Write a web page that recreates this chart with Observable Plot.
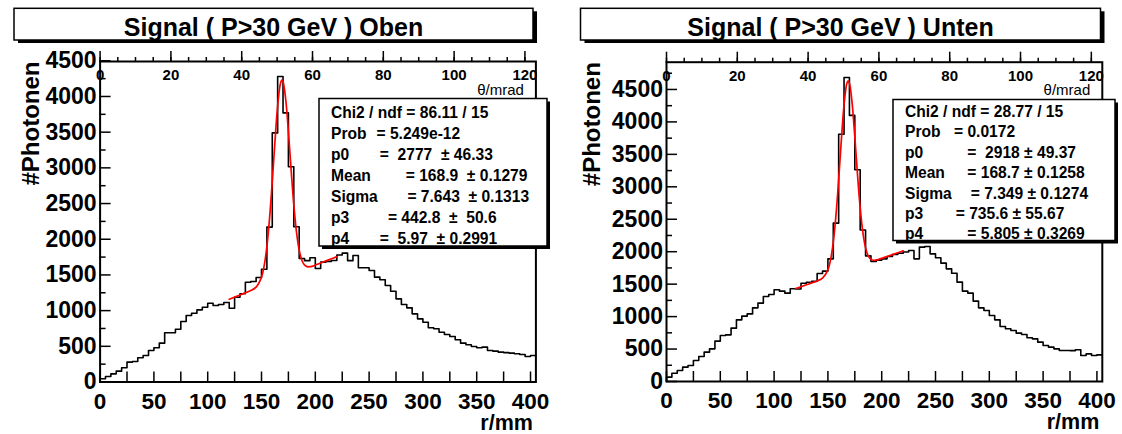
<!DOCTYPE html>
<html><head><meta charset="utf-8">
<script src="https://cdn.jsdelivr.net/npm/d3@7"></script>
<script src="https://cdn.jsdelivr.net/npm/@observablehq/plot@0.6"></script>
<style>
body{margin:0;background:#fff;}
#wrap{display:flex;width:1122px;height:434px;overflow:hidden;}
svg text{white-space:pre;}
</style></head><body><div id="wrap"></div>
<script>
// ---------- data ----------
const BIN_WIDTH = 5;          // mm
const R_MAX = 405;            // mm
const MM_PER_MRAD = 3.29;     // r = f * theta

const titleOben = "Signal ( P>30 GeV ) Oben";
const titleUnten = "Signal ( P>30 GeV ) Unten";

const countsOben = [45,77,114,152,199,278,287,339,371,441,
  479,544,689,689,740,848,932,964,1011,1048,
  1104,1072,1086,1114,1034,1188,1236,1398,1408,1465,
  1580,2170,3490,4280,3770,3015,2175,1730,1700,1740,
  1590,1680,1690,1702,1780,1805,1700,1772,1600,1600,
  1562,1469,1432,1352,1272,1165,1086,1039,955,885,
  838,759,745,698,665,637,591,544,521,497,
  479,488,441,432,418,412,405,395,385,357,371];

const countsUnten = [67,128,170,221,247,324,385,452,503,622,
  709,719,822,950,1007,1042,1135,1207,1310,1341,
  1413,1392,1361,1430,1425,1515,1530,1545,1665,1700,
  1890,2440,3810,4685,4100,3262,2335,1935,1849,1870,
  1890,1926,1957,1977,1995,2019,1890,2070,2080,1967,
  1906,1824,1736,1669,1531,1392,1361,1238,1135,1094,
  1017,950,848,812,786,745,724,673,657,606,
  555,529,503,478,478,475,490,401,426,401,411];

// fit curves (gaus + pol1) as drawn
const fitROben = [120,125,130,135,140,145,150,152.5,155,157.5,160,162.5,165,167.5,168.9,170,172.5,175,177.5,180,182.5,185,187.5,190,192.5,195,197.5,200,205,210,215,220];
const fitFOben = [1159,1189,1219,1249,1281,1329,1469,1631,1899,2296,2808,3369,3866,4174,4228,4206,3958,3507,2977,2485,2102,1849,1706,1639,1616,1615,1624,1638,1667,1697,1726,1756];
const fitRUnten = [120,125,130,135,140,145,150,152.5,155,157.5,160,162.5,165,167.5,168.7,170,172.5,175,177.5,180,182.5,185,187.5,190,192.5,195,197.5,200,205,210,215,220];
const fitFUnten = [1432,1461,1490,1519,1550,1593,1721,1878,2149,2564,3113,3723,4264,4587,4633,4595,4290,3772,3191,2675,2296,2059,1935,1882,1868,1872,1883,1897,1926,1955,1984,2013];

// stats boxes (label, rest of line)
const statLabelsOben = ["Chi2 / ndf = 86.11 / 15","Prob","p0","Mean","Sigma","p3","p4"];
const statRestOben = ["","= 5.249e-12","=\u00A0 2777 \u00A0± 46.33","= 168.9 \u00A0± 0.1279","= 7.643 \u00A0± 0.1313","= 442.8 \u00A0± \u00A050.6","=\u00A0 5.97 \u00A0± 0.2991"];
const statLabelsUnten = ["Chi2 / ndf = 28.77 / 15","Prob","p0","Mean","Sigma","p3","p4"];
const statRestUnten = ["","= 0.0172","=\u00A0 2918 ± 49.37","= 168.7 ± 0.1258","= 7.349 ± 0.1274","= 735.6 ± 55.67","= 5.805 ± 0.3269"];

// axis ticks / labels
const rTicks = [0,25,50,75,100,125,150,175,200,225,250,275,300,325,350,375,400];
const rLabels = [0,50,100,150,200,250,300,350,400];
const thetaMajor = [0,20,40,60,80,100,120];
const thetaMinor = [0,5,10,15,20,25,30,35,40,45,50,55,60,65,70,75,80,85,90,95,100,105,110,115,120];
const yMajor = [0,500,1000,1500,2000,2500,3000,3500,4000,4500];
const yMinorOben = [250,750,1250,1750,2250,2750,3250,3750,4250];
const yMinorUnten = [250,750,1250,1750,2250,2750,3250,3750,4250,4750];
const xTitle = "r/mm", yTitle = "#Photonen", topTitle = "θ/mrad";

// ---------- layout ----------
const FONT = "'Liberation Sans', Arial, Helvetica, sans-serif";
const layoutOben = {ml: 99.6, mr: 25.6, mt: 61, mb: 52.5, ymax: 4490,
  title: [14, 533, 8.3, 40], titleBase: 36,
  stats: [319, 547, 98.5, 246], statsX: 331, statsY0: 112, statsDy: 21.1,
  eq: [0, 45.5, 48.8, 74.7, 76.4, 56.9, 48.8]};
const layoutUnten = {ml: 105, mr: 20.2, mt: 61.7, mb: 53, ymax: 4920,
  title: [19.5, 539.5, 8.3, 40], titleBase: 36,
  stats: [332, 554, 99.5, 240.5], statsX: 344, statsY0: 111.5, statsDy: 20.4,
  eq: [0, 49, 62.3, 62.3, 65.7, 50.7, 62.3]};

function boxes(title, L, labels, rest) {
  return () => {
    const g = d3.create("svg:g").attr("font-family", FONT).attr("font-weight", "bold").attr("fill", "black");
    const [tx0, tx1, ty0, ty1] = L.title;
    g.append("rect").attr("x", tx0 + 4).attr("y", ty0 + 3).attr("width", tx1 - tx0).attr("height", ty1 - ty0).attr("fill", "black");
    g.append("rect").attr("x", tx0).attr("y", ty0).attr("width", tx1 - tx0).attr("height", ty1 - ty0).attr("fill", "white").attr("stroke", "black").attr("stroke-width", 1.5);
    g.append("text").attr("x", (tx0 + tx1) / 2).attr("y", L.titleBase).attr("text-anchor", "middle").attr("font-size", 25).text(title);
    const [sx0, sx1, sy0, sy1] = L.stats;
    g.append("rect").attr("x", sx0 + 3).attr("y", sy0 + 3).attr("width", sx1 - sx0).attr("height", sy1 - sy0).attr("fill", "black");
    g.append("rect").attr("x", sx0).attr("y", sy0).attr("width", sx1 - sx0).attr("height", sy1 - sy0).attr("fill", "white").attr("stroke", "black").attr("stroke-width", 1.5);
    labels.forEach((lab, i) => {
      const y = L.statsY0 + i * L.statsDy + 5.5;
      g.append("text").attr("x", L.statsX).attr("y", y).attr("text-anchor", "start").attr("font-size", 15.6).text(lab);
      if (rest[i]) g.append("text").attr("x", L.statsX + L.eq[i]).attr("y", y).attr("text-anchor", "start").attr("font-size", 15.6).text(rest[i]);
    });
    return g.node();
  };
}

function makePanel(counts, fitR, fitF, yMinor, title, L, labels, rest) {
  const hist = [{r: 0, c: 0}, ...counts.map((c, i) => ({r: i * BIN_WIDTH, c})), {r: counts.length * BIN_WIDTH, c: counts[counts.length - 1]}];
  const fit = fitR.map((r, i) => ({r, f: fitF[i]}));
  return Plot.plot({
    width: 561, height: 434,
    marginLeft: L.ml, marginRight: L.mr, marginTop: L.mt, marginBottom: L.mb,
    x: {domain: [0, R_MAX], axis: null},
    y: {domain: [0, L.ymax], axis: null},
    style: {fontFamily: FONT, background: "white", color: "black", overflow: "visible"},
    marks: [
      Plot.line(hist, {x: "r", y: "c", curve: "step-after", stroke: "black", strokeWidth: 1.6}),
      Plot.line(fit, {x: "r", y: "f", curve: "catmull-rom", stroke: "#ff0000", strokeWidth: 1.7}),
      Plot.frame({stroke: "black", strokeWidth: 2}),
      Plot.axisX(rTicks, {anchor: "bottom", tickSize: -10, tickFormat: () => "", label: null, strokeWidth: 1.5}),
      Plot.axisX(rLabels, {anchor: "bottom", tickSize: 0, tickPadding: 10.8, label: null, fontSize: 22.5, fontWeight: "bold", tickFormat: d => String(d)}),
      Plot.axisY(yMinor, {anchor: "left", tickSize: -6, tickFormat: () => "", label: null, strokeWidth: 1.5}),
      Plot.axisY(yMajor, {anchor: "left", tickSize: -11, tickFormat: () => "", label: null, strokeWidth: 1.5}),
      Plot.axisY(yMajor, {anchor: "left", tickSize: 0, tickPadding: 3.5, label: null, fontSize: 23, fontWeight: "bold", tickFormat: d => String(d)}),
      Plot.axisX(thetaMinor.map(t => t * MM_PER_MRAD), {anchor: "top", tickSize: 5, tickFormat: () => "", label: null, strokeWidth: 1.5}),
      Plot.axisX(thetaMajor.map(t => t * MM_PER_MRAD), {anchor: "top", tickSize: 11, tickFormat: () => "", label: null, strokeWidth: 1.5}),
      Plot.text(thetaMajor, {x: t => t * MM_PER_MRAD, text: t => String(t), frameAnchor: "top", lineAnchor: "middle", dy: 14, fontSize: 15, fontWeight: "bold"}),
      Plot.text([topTitle], {frameAnchor: "top-right", lineAnchor: "middle", dx: -12, dy: 28.3, textAnchor: "end", fontSize: 15}),
      Plot.text([xTitle], {frameAnchor: "bottom-right", lineAnchor: "middle", dx: -3, dy: 41, textAnchor: "end", fontSize: 21.5, fontWeight: "bold"}),
      Plot.text([yTitle], {frameAnchor: "top-left", lineAnchor: "middle", dx: 30.8 - L.ml, rotate: -90, textAnchor: "end", fontSize: 24, fontWeight: "bold"}),
      boxes(title, L, labels, rest)
    ]
  });
}

const wrap = document.getElementById("wrap");
wrap.appendChild(makePanel(countsOben, fitROben, fitFOben, yMinorOben, titleOben, layoutOben, statLabelsOben, statRestOben));
wrap.appendChild(makePanel(countsUnten, fitRUnten, fitFUnten, yMinorUnten, titleUnten, layoutUnten, statLabelsUnten, statRestUnten));
</script></body></html>
